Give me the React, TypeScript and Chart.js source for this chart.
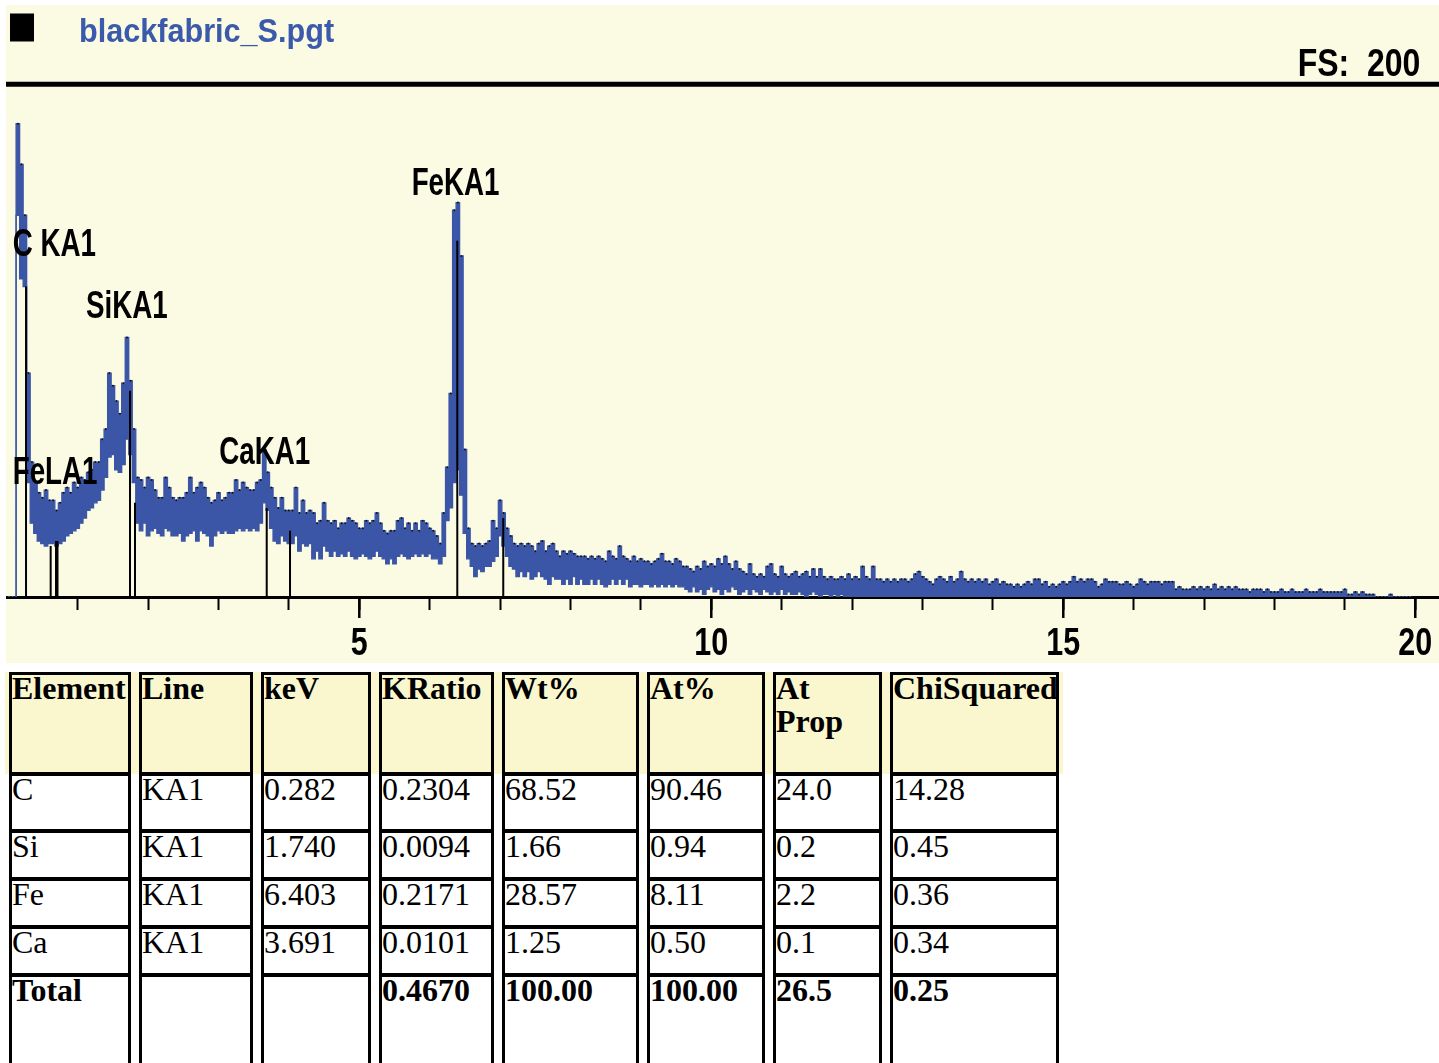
import React, { useEffect, useRef } from 'react';
import { Chart, registerables } from 'chart.js';

Chart.register(...registerables);

// ---------------- DATA ----------------
const SPECTRUM_FILE = 'blackfabric_S.pgt';
const FULL_SCALE = 200;

// channel energies: CHANNEL_START + i * CHANNEL_WIDTH (keV)
const CHANNEL_START = 0;
const CHANNEL_WIDTH = 0.05;

// upper edge of the counts trace per channel (one row = 1 keV)
const UPPER_COUNTS = [
  0, 0, 0, 186, 170, 150, 88, 53, 45, 41, 39, 42, 38, 38, 34, 37, 41, 43, 41, 45,
  43, 47, 46, 49, 50, 53, 53, 62, 66, 88, 83, 77, 72, 84, 102, 85, 66, 47, 46, 43,
  47, 46, 42, 39, 39, 47, 43, 39, 38, 39, 39, 41, 47, 41, 43, 45, 43, 39, 37, 38,
  41, 38, 39, 41, 41, 46, 42, 45, 43, 42, 42, 45, 46, 58, 49, 43, 39, 35, 39, 34,
  34, 34, 43, 33, 38, 33, 34, 33, 29, 30, 37, 30, 29, 30, 27, 29, 29, 31, 30, 29,
  27, 27, 30, 29, 30, 33, 29, 26, 25, 26, 26, 30, 31, 27, 29, 26, 29, 26, 30, 29,
  27, 26, 24, 21, 33, 51, 80, 152, 155, 134, 58, 27, 21, 20, 21, 20, 21, 22, 30, 27,
  38, 33, 27, 24, 21, 20, 21, 20, 21, 20, 18, 21, 22, 18, 20, 21, 18, 16, 18, 17,
  18, 17, 16, 16, 16, 15, 16, 15, 16, 15, 14, 18, 16, 15, 20, 16, 15, 14, 16, 14,
  15, 14, 14, 13, 14, 15, 17, 14, 14, 13, 15, 14, 12, 12, 11, 10, 12, 11, 14, 12,
  13, 12, 15, 13, 16, 13, 11, 14, 11, 10, 9, 13, 9, 8, 9, 8, 12, 13, 9, 8,
  12, 9, 8, 9, 10, 8, 9, 10, 8, 11, 8, 11, 8, 7, 8, 7, 7, 8, 7, 9,
  7, 8, 7, 12, 8, 7, 12, 7, 7, 6, 7, 6, 7, 6, 7, 7, 6, 7, 9, 10,
  8, 7, 6, 5, 7, 8, 7, 6, 8, 6, 7, 10, 7, 6, 7, 6, 7, 6, 7, 5,
  6, 7, 5, 6, 5, 5, 4, 5, 4, 5, 6, 5, 7, 7, 5, 6, 4, 5, 4, 5,
  6, 5, 6, 8, 6, 7, 6, 7, 7, 6, 4, 5, 7, 6, 6, 6, 5, 5, 6, 5,
  4, 5, 7, 6, 5, 6, 6, 6, 5, 6, 6, 6, 3, 4, 3, 3, 3, 4, 3, 4,
  3, 4, 3, 5, 3, 4, 3, 4, 3, 4, 3, 3, 3, 2, 3, 3, 3, 2, 3, 2,
  2, 2, 3, 2, 2, 3, 2, 2, 2, 3, 2, 2, 2, 3, 2, 2, 2, 2, 2, 2,
  3, 1, 1, 2, 1, 2, 1, 1, 1, 0, 0, 0, 0, 1, 0, 0, 0, 0, 0, 0,
];

// lower edge of the counts trace per channel (one row = 1 keV)
const LOWER_COUNTS = [
  0, 0, 0, 150, 125, 122, 45, 29, 25, 22, 21, 20, 21, 21, 20, 21, 22, 24, 25, 26,
  27, 29, 31, 34, 35, 37, 38, 42, 47, 55, 56, 50, 49, 52, 62, 56, 45, 29, 26, 29,
  24, 26, 27, 25, 24, 27, 26, 24, 24, 25, 22, 24, 25, 26, 22, 26, 25, 24, 20, 24,
  26, 25, 26, 25, 25, 26, 27, 26, 27, 26, 27, 26, 29, 37, 34, 27, 22, 21, 24, 22,
  21, 21, 24, 18, 21, 20, 21, 15, 18, 15, 20, 18, 16, 18, 16, 17, 16, 18, 16, 15,
  16, 17, 16, 15, 16, 18, 16, 15, 13, 15, 13, 16, 17, 16, 15, 16, 17, 16, 17, 16,
  17, 15, 15, 13, 16, 30, 35, 45, 50, 40, 25, 15, 12, 8, 11, 10, 12, 12, 14, 16,
  24, 20, 16, 12, 11, 8, 10, 8, 10, 7, 8, 10, 8, 7, 5, 8, 7, 7, 5, 7,
  5, 8, 5, 7, 5, 5, 7, 5, 7, 5, 4, 5, 7, 5, 7, 5, 7, 4, 5, 5,
  4, 5, 5, 4, 5, 4, 5, 4, 5, 4, 5, 4, 4, 3, 2, 4, 2, 3, 1, 3,
  4, 2, 3, 1, 3, 2, 4, 3, 1, 2, 3, 1, 3, 2, 1, 3, 2, 1, 2, 1,
  3, 1, 2, 1, 1, 2, 1, 0, 1, 2, 1, 0, 1, 1, 0, 1, 0, 1, 0, 0,
  0, 0, 0, 0, 0, 0, 0, 0, 0, 0, 0, 0, 0, 0, 0, 0, 0, 0, 0, 0,
  0, 0, 0, 0, 0, 0, 0, 0, 0, 0, 0, 0, 0, 0, 0, 0, 0, 0, 0, 0,
  0, 0, 0, 0, 0, 0, 0, 0, 0, 0, 0, 0, 0, 0, 0, 0, 0, 0, 0, 0,
  0, 0, 0, 0, 0, 0, 0, 0, 0, 0, 0, 0, 0, 0, 0, 0, 0, 0, 0, 0,
  0, 0, 0, 0, 0, 0, 0, 0, 0, 0, 0, 0, 0, 0, 0, 0, 0, 0, 0, 0,
  0, 0, 0, 0, 0, 0, 0, 0, 0, 0, 0, 0, 0, 0, 0, 0, 0, 0, 0, 0,
  0, 0, 0, 0, 0, 0, 0, 0, 0, 0, 0, 0, 0, 0, 0, 0, 0, 0, 0, 0,
  0, 0, 0, 0, 0, 0, 0, 0, 0, 0, 0, 0, 0, 0, 0, 0, 0, 0, 0, 0,
];

// element line markers (keV, marker height in counts)
const MARKER_KEV = [0.266, 0.616, 0.692, 0.713, 1.743, 1.814, 3.685, 4.016, 6.392, 7.045];
const MARKER_COUNTS = [122, 20, 22, 22, 81, 37, 35, 26, 140, 31];

// peak labels (anchor at keV / counts of text baseline-left)
const LABEL_TEXT = ['C KA1', 'FeLA1', 'SiKA1', 'CaKA1', 'FeKA1'];
const LABEL_KEV = [0.077, 0.077, 1.118, 3.011, 5.744];
const LABEL_COUNTS = [134, 44.4, 109.5, 52.3, 158];

// axis
const X_MIN = -0.0185;
const X_MAX = 20.337;
const MAJOR_TICKS = [5, 10, 15, 20];

// results table
const TABLE_HEADERS = ['Element', 'Line', 'keV', 'KRatio', 'Wt%', 'At%', 'At Prop', 'ChiSquared'];
const ELEMENTS = ['C', 'Si', 'Fe', 'Ca'];
const LINES = ['KA1', 'KA1', 'KA1', 'KA1'];
const KEV_VALUES = ['0.282', '1.740', '6.403', '3.691'];
const KRATIO = ['0.2304', '0.0094', '0.2171', '0.0101'];
const WT_PCT = ['68.52', '1.66', '28.57', '1.25'];
const AT_PCT = ['90.46', '0.94', '8.11', '0.50'];
const AT_PROP = ['24.0', '0.2', '2.2', '0.1'];
const CHI_SQ = ['14.28', '0.45', '0.36', '0.34'];
const TOTALS = ['Total', '', '', '0.4670', '100.00', '100.00', '26.5', '0.25'];

// ---------------- STYLE ----------------
const CHART_BG = '#fbfae3';
const HEADER_BG = '#faf7cf';
const BLUE = '#3b55a7';
const TITLE_BLUE = '#3c5aab';
const SANS = '"Liberation Sans", Arial, Helvetica, sans-serif';
const SERIF = '"Liberation Serif", "Times New Roman", Times, serif';

function drawCondensed(
  ctx: CanvasRenderingContext2D,
  text: string,
  x: number,
  y: number,
  font: string,
  scaleX: number,
  color: string,
  align: CanvasTextAlign = 'left'
) {
  ctx.save();
  ctx.font = font;
  ctx.fillStyle = color;
  ctx.textBaseline = 'alphabetic';
  ctx.textAlign = align;
  ctx.translate(x, y);
  ctx.scale(scaleX, 1);
  ctx.fillText(text, 0, 0);
  ctx.restore();
}

const framePlugin = {
  id: 'edsFrame',
  beforeDraw(chart: any) {
    const ctx: CanvasRenderingContext2D = chart.ctx;
    const w = chart.width;
    ctx.save();
    ctx.fillStyle = CHART_BG;
    ctx.fillRect(0, 0, w, chart.height);
    // black square
    ctx.fillStyle = '#000';
    ctx.fillRect(4, 8.5, 24, 28);
    // thick separator line
    ctx.strokeStyle = '#000';
    ctx.lineWidth = 5;
    ctx.beginPath();
    ctx.moveTo(0, 79.2);
    ctx.lineTo(w, 79.2);
    ctx.stroke();
    ctx.restore();
    drawCondensed(ctx, SPECTRUM_FILE, 73, 36.7, `bold 34px ${SANS}`, 0.9, TITLE_BLUE);
    drawCondensed(ctx, `FS:  ${FULL_SCALE}`, 1291.7, 71, `bold 39px ${SANS}`, 0.82, '#000');
  },
  afterDraw(chart: any) {
    const ctx: CanvasRenderingContext2D = chart.ctx;
    const xs = chart.scales.x;
    const ys = chart.scales.y;
    // major ticks + labels
    ctx.save();
    ctx.strokeStyle = '#000';
    ctx.lineWidth = 2.5;
    MAJOR_TICKS.forEach((v) => {
      const px = xs.getPixelForValue(v);
      ctx.beginPath();
      ctx.moveTo(px, xs.top);
      ctx.lineTo(px, xs.top + 21);
      ctx.stroke();
      drawCondensed(ctx, String(v), px, xs.top + 58, `bold 39px ${SANS}`, 0.78, '#000', 'center');
    });
    ctx.restore();
    // peak labels
    LABEL_TEXT.forEach((t, i) => {
      const px = xs.getPixelForValue(LABEL_KEV[i]);
      const py = ys.getPixelForValue(LABEL_COUNTS[i]);
      drawCondensed(ctx, t, px, py, `bold 38px ${SANS}`, 0.73, '#000');
    });
  },
};

function SpectrumChart() {
  const ref = useRef<HTMLCanvasElement>(null);
  useEffect(() => {
    if (!ref.current) return;
    const upper = UPPER_COUNTS.map((v, i) => ({ x: CHANNEL_START + i * CHANNEL_WIDTH, y: v }));
    const lower = LOWER_COUNTS.map((v, i) => ({ x: CHANNEL_START + i * CHANNEL_WIDTH, y: v }));
    const markers: any[] = [];
    MARKER_KEV.forEach((k, i) => {
      markers.push({ x: k, y: 0 }, { x: k, y: MARKER_COUNTS[i] }, { x: k, y: null });
    });
    const chart = new Chart(ref.current, {
      type: 'line',
      data: {
        datasets: [
          {
            label: 'lines',
            data: markers,
            borderColor: '#000',
            borderWidth: 2,
            pointRadius: 0,
            pointHoverRadius: 0,
            fill: false,
            spanGaps: false,
            order: 0,
          },
          {
            label: 'counts (upper)',
            data: upper,
            borderColor: BLUE,
            borderWidth: 1.3,
            stepped: 'middle',
            pointRadius: 1,
            pointHoverRadius: 0,
            pointBorderWidth: 0,
            pointBackgroundColor: '#141414',
            fill: false,
            order: 1,
          },
          {
            label: 'counts (lower)',
            data: lower,
            borderColor: BLUE,
            borderWidth: 1.3,
            stepped: 'middle',
            pointRadius: 0,
            pointHoverRadius: 0,
            backgroundColor: BLUE,
            fill: '-1',
            order: 2,
          },
        ],
      } as any,
      options: {
        animation: false,
        responsive: false,
        events: [],
        layout: { autoPadding: false, padding: { top: 83, left: 0, right: 0, bottom: 0 } },
        plugins: {
          legend: { display: false },
          tooltip: { enabled: false },
          title: { display: false },
        },
        scales: {
          x: {
            type: 'linear',
            min: X_MIN,
            max: X_MAX,
            z: 1,
            border: { display: true, color: '#000', width: 3 },
            grid: {
              display: true,
              drawOnChartArea: false,
              drawTicks: true,
              tickLength: 13,
              tickWidth: 2,
              tickColor: (c: any) => (c.tick && c.tick.value > 0 ? '#000' : 'rgba(0,0,0,0)'),
            },
            ticks: {
              stepSize: 1,
              autoSkip: false,
              includeBounds: false,
              maxRotation: 0,
              callback: () => '',
            },
            afterFit: (s: any) => {
              s.height = 66;
              s.paddingLeft = 0;
              s.paddingRight = 0;
            },
          },
          y: { type: 'linear', min: 0, max: FULL_SCALE, display: false },
        },
      } as any,
      plugins: [framePlugin],
    });
    return () => chart.destroy();
  }, []);
  return (
    <canvas
      ref={ref}
      width={1433}
      height={658}
      style={{ position: 'absolute', left: 6, top: 5, width: 1433, height: 658 }}
    />
  );
}

const COL_WIDTHS = [122, 114, 110, 115, 137, 118, 109, 169];

function ResultsTable() {
  const rows = [
    { top: 672, content: 97, topB: 3, cells: TABLE_HEADERS, bold: true, bg: HEADER_BG },
    ...ELEMENTS.map((el, i) => ({
      top: [774, 831, 879, 927][i],
      content: i === 0 ? 53 : 44,
      topB: 2,
      cells: [el, LINES[i], KEV_VALUES[i], KRATIO[i], WT_PCT[i], AT_PCT[i], AT_PROP[i], CHI_SQ[i]],
      bold: false,
      bg: '#fff',
    })),
    { top: 975, content: 120, topB: 2, cells: TOTALS, bold: true, bg: '#fff' },
  ];
  return (
    <>
      {rows.map((r, ri) => (
        <div
          key={ri}
          style={{
            position: 'absolute',
            top: r.top,
            left: 5,
            display: 'flex',
            gap: 8,
            padding: '0 4px',
            background: r.bg,
          }}
        >
          {r.cells.map((c, ci) => (
            <div
              key={ci}
              style={{
                boxSizing: 'content-box',
                width: COL_WIDTHS[ci] - 6,
                height: r.content,
                borderStyle: 'solid',
                borderColor: '#000',
                borderWidth: `${r.topB}px 3px 2px 3px`,
                overflow: 'hidden',
                background: r.bg,
              }}
            >
              <span
                style={{
                  position: 'relative',
                  top: -3,
                  display: 'block',
                  fontFamily: SERIF,
                  fontSize: 32,
                  lineHeight: '33px',
                  fontWeight: r.bold ? 'bold' : 'normal',
                  color: '#000',
                  whiteSpace: 'normal',
                }}
              >
                {c}
              </span>
            </div>
          ))}
        </div>
      ))}
    </>
  );
}

export default function App() {
  return (
    <div
      style={{
        position: 'absolute',
        left: 0,
        top: 0,
        width: 1439,
        height: 1063,
        overflow: 'hidden',
        background: '#fff',
      }}
    >
      <SpectrumChart />
      <ResultsTable />
    </div>
  );
}
